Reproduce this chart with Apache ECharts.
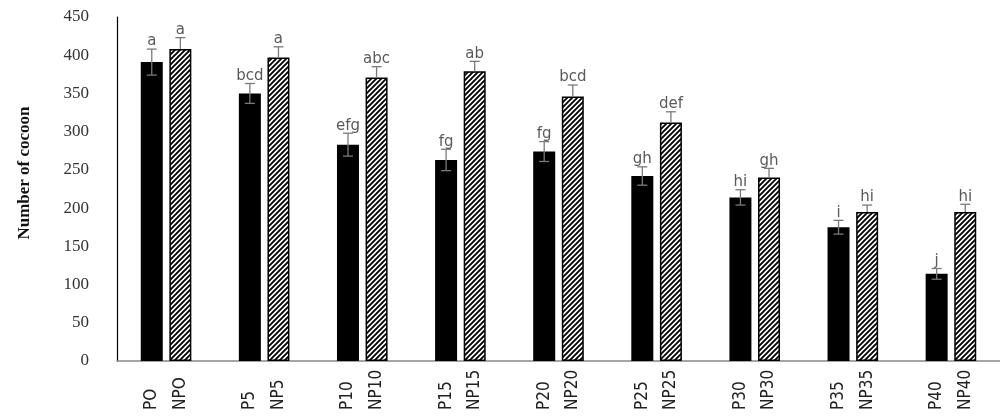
<!DOCTYPE html>
<html><head><meta charset="utf-8">
<script src="https://cdn.jsdelivr.net/npm/echarts@6/dist/echarts.min.js"></script>
<style>html,body{margin:0;padding:0;background:#fff}#c{width:1000px;height:417px}</style>
</head><body><div id="c"></div>
<script>
// ---- data ----
const categories = ['0','5','10','15','20','25','30','35','40'];
const labelsP  = ['PO','P5','P10','P15','P20','P25','P30','P35','P40'];
const labelsNP = ['NPO','NP5','NP10','NP15','NP20','NP25','NP30','NP35','NP40'];
const valuesP  = [391, 350, 283, 263, 274, 242, 214, 175, 114];
const valuesNP = [408, 397, 371, 379, 346, 312, 240, 195, 195];
const errP  = [17, 13, 15, 14, 13, 12, 10, 9, 7];
const errNP = [15, 14, 14, 13, 15, 14, 12, 9, 10];
const lettersP  = ['a','bcd','efg','fg','fg','gh','hi','i','j'];
const lettersNP = ['a','a','abc','ab','bcd','def','gh','hi','hi'];
const yTicks = [0, 450, 50]; // min, max, interval

// ---- styling constants ----
const BAR_W = 22, BAR_GAP = 0.3;
const OFFSET = BAR_W * (1 + BAR_GAP) / 2;

function makeHatch() {
  const s = 5;
  const cv = document.createElement('canvas');
  cv.width = s; cv.height = s;
  const ctx = cv.getContext('2d');
  ctx.fillStyle = '#fff'; ctx.fillRect(0, 0, s, s);
  ctx.strokeStyle = '#000'; ctx.lineWidth = 1.9;
  ctx.beginPath();
  ctx.moveTo(-1, s + 1); ctx.lineTo(s + 1, -1);
  ctx.moveTo(-1, 1); ctx.lineTo(1, -1);
  ctx.moveTo(s - 1, s + 1); ctx.lineTo(s + 1, s - 1);
  ctx.stroke();
  return cv;
}

function errRender(vals, errs, letters, sign, full) {
  return function (params, api) {
    const i = params.dataIndex;
    const v = vals[i], e = errs[i];
    const x = api.coord([i, v])[0] + sign * OFFSET;
    const yv = api.coord([i, v])[1];
    const yt = api.coord([i, v + e])[1];
    const yb = api.coord([i, v - e])[1];
    const st = { stroke: '#7a7a7a', lineWidth: 1.3 };
    const ch = [
      { type: 'line', shape: { x1: x, y1: yt, x2: x, y2: full ? yb : yv }, style: st },
      { type: 'line', shape: { x1: x - 5, y1: yt, x2: x + 5, y2: yt }, style: st },
      { type: 'text', style: { text: letters[i], x: x, y: yt, align: 'center', verticalAlign: 'bottom',
        fill: '#5a5a5a', font: '15px "DejaVu Sans", sans-serif' } }
    ];
    if (full) ch.push({ type: 'line', shape: { x1: x - 5, y1: yb, x2: x + 5, y2: yb }, style: st });
    return { type: 'group', children: ch };
  };
}

const chart = echarts.init(document.getElementById('c'), null, { renderer: 'canvas' });
chart.setOption({
  animation: false,
  backgroundColor: '#fff',
  grid: { left: 117, right: -13, top: 17, bottom: 56, containLabel: false },
  xAxis: {
    type: 'category', data: categories,
    axisLine: { lineStyle: { color: '#888', width: 1.5 } },
    axisTick: { show: false },
    axisLabel: {
      interval: 0, rotate: 90, align: 'left', margin: 49,
      formatter: (v, i) => labelsP[i] + '\n' + labelsNP[i],
      lineHeight: 28.6, color: '#222',
      fontFamily: '"DejaVu Sans Condensed", "Liberation Sans Narrow", sans-serif', fontSize: 17
    }
  },
  yAxis: {
    type: 'value', min: yTicks[0], max: yTicks[1], interval: yTicks[2],
    name: 'Number of cocoon', nameLocation: 'middle', nameGap: 84, nameRotate: 90,
    nameTextStyle: { fontFamily: '"Liberation Serif", serif', fontWeight: 'bold', fontSize: 17, color: '#111', padding: [0, 0, 0, 32] },
    axisLine: { show: true, lineStyle: { color: '#000', width: 1.2 } },
    axisTick: { show: false },
    splitLine: { show: false },
    axisLabel: { margin: 28, color: '#333', fontFamily: '"Liberation Serif", serif', fontSize: 17 }
  },
  series: [
    { name: 'P', type: 'bar', data: valuesP, barWidth: BAR_W, barGap: (BAR_GAP * 100) + '%',
      itemStyle: { color: '#000' } },
    { name: 'NP', type: 'bar', data: valuesNP, barWidth: BAR_W,
      itemStyle: { color: { image: makeHatch(), repeat: 'repeat' }, borderColor: '#000', borderWidth: 1.5 } },
    { type: 'custom', z: 5, data: valuesP.map((v, i) => [i, v]),
      renderItem: errRender(valuesP, errP, lettersP, -1, true) },
    { type: 'custom', z: 5, data: valuesNP.map((v, i) => [i, v]),
      renderItem: errRender(valuesNP, errNP, lettersNP, 1, false) }
  ]
});
</script></body></html>
